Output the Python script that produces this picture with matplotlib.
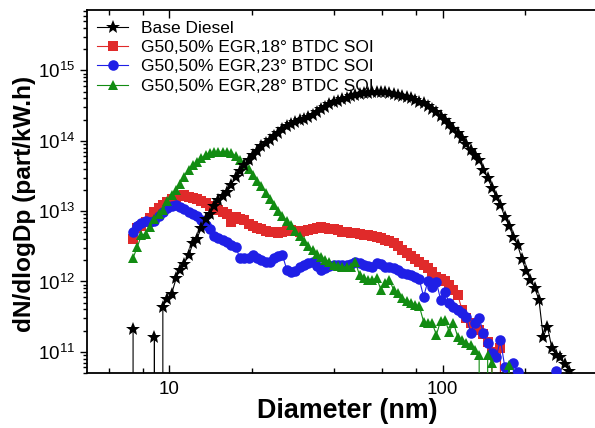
import matplotlib
matplotlib.use("Agg")
import matplotlib.pyplot as plt
from matplotlib.ticker import FixedLocator, FixedFormatter, LogLocator, LogFormatterSciNotation, NullFormatter

plt.rcParams['font.family'] = ['Liberation Sans', 'DejaVu Sans']
plt.rcParams['mathtext.fontset'] = 'custom'
plt.rcParams['mathtext.rm'] = 'Liberation Sans'

# SMPS channel mid-point diameters (nm), 64 channels per decade
diameter = [7.37, 7.64, 7.91, 8.20, 8.51, 8.82, 9.14, 9.47, 9.82, 10.2, 10.6, 10.9,
            11.3, 11.8, 12.2, 12.6, 13.1, 13.6, 14.1, 14.6, 15.1, 15.7, 16.3, 16.8,
            17.5, 18.1, 18.8, 19.5, 20.2, 20.9, 21.7, 22.5, 23.3, 24.1, 25.0, 25.9,
            26.9, 27.9, 28.9, 30.0, 31.1, 32.2, 33.4, 34.6, 35.9, 37.2, 38.5, 40.0,
            41.4, 42.9, 44.5, 46.1, 47.8, 49.6, 51.4, 53.3, 55.2, 57.3, 59.4, 61.5,
            63.8, 66.1, 68.5, 71.0, 73.7, 76.4, 79.1, 82.0, 85.1, 88.2, 91.4, 94.7,
            98.2, 101.8, 105.5, 109.4, 113.4, 117.6, 121.9, 126.4, 131.0, 135.8, 140.7,
            145.9, 151.2, 156.8, 162.5, 168.5, 174.7, 181.1, 187.7, 194.6, 201.7, 209.1,
            216.7, 224.7, 232.9, 241.4, 250.3, 259.5, 269.0, 278.8, 289.0, 299.6]

# dN/dlogDp (part/kW.h); zeros are empty channels
base_diesel = [2.1e11, 0, 0, 0, 0, 1.6e11, 0, 4.4e11, 5.7e11, 6.7e11, 1.12e12, 1.46e12,
               1.78e12, 2.39e12, 3.53e12, 4.03e12, 5.77e12, 7.75e12, 9.1e12, 1.19e13,
               1.44e13, 1.64e13, 1.87e13, 2.36e13, 3.06e13, 3.72e13, 4.53e13, 5.34e13,
               6.28e13, 7.16e13, 8.43e13, 9.3e13, 1.03e14, 1.17e14, 1.29e14, 1.47e14,
               1.62e14, 1.73e14, 1.85e14, 1.94e14, 2.04e14, 2.18e14, 2.36e14, 2.57e14,
               2.78e14, 3.02e14, 3.33e14, 3.56e14, 3.67e14, 3.86e14, 4.05e14, 4.26e14,
               4.40e14, 4.55e14, 4.70e14, 4.77e14, 4.85e14, 4.93e14, 4.93e14, 4.85e14,
               4.77e14, 4.62e14, 4.48e14, 4.33e14, 4.19e14, 3.99e14, 3.80e14, 3.61e14,
               3.39e14, 3.12e14, 2.83e14, 2.52e14, 2.25e14, 1.97e14, 1.71e14, 1.47e14,
               1.29e14, 1.10e14, 9.0e13, 7.4e13, 6.28e13, 5.34e13, 3.85e13, 2.96e13,
               2.14e13, 1.59e13, 1.22e13, 8.28e12, 6.17e12, 4.30e12, 3.31e12, 2.09e12,
               1.42e12, 1.05e12, 8.11e11, 5.48e11, 1.63e11, 2.27e11, 1.14e11, 9.06e10,
               8.49e10, 6.76e10, 5.37e10, 0]

g50_soi18 = [4.03e12, 5.77e12, 6.17e12, 7.03e12, 8.00e12, 9.75e12, 1.11e13, 1.23e13,
             1.35e13, 1.49e13, 1.59e13, 1.64e13, 1.70e13, 1.59e13, 1.54e13, 1.49e13,
             1.40e13, 1.31e13, 1.19e13, 1.11e13, 1.04e13, 9.75e12, 9.12e12, 7.03e12,
             8.27e12, 7.75e12, 7.50e12, 6.58e12, 6.17e12, 5.77e12, 5.59e12, 5.24e12,
             5.07e12, 5.07e12, 4.90e12, 5.07e12, 5.24e12, 5.41e12, 5.24e12, 5.07e12,
             5.24e12, 5.41e12, 5.59e12, 5.77e12, 5.97e12, 5.77e12, 5.59e12, 5.59e12,
             5.41e12, 5.07e12, 5.07e12, 4.90e12, 4.90e12, 4.74e12, 4.59e12, 4.59e12,
             4.44e12, 4.30e12, 4.16e12, 3.90e12, 3.77e12, 3.53e12, 3.21e12, 2.81e12,
             2.55e12, 2.31e12, 2.09e12, 1.90e12, 1.72e12, 1.56e12, 1.37e12, 1.16e12,
             1.08e12, 1.02e12, 8.95e11, 7.60e11, 6.46e11, 3.95e11, 3.04e11, 2.58e11,
             2.26e11, 2.05e11, 1.80e11, 1.39e11, 1.0e11, 0, 1.14e11, 0, 0]

g50_soi23 = [5.07e12, 6.17e12, 6.80e12, 7.26e12, 7.03e12, 7.26e12, 8.55e12, 9.75e12,
             1.11e13, 1.19e13, 1.23e13, 1.15e13, 1.07e13, 9.75e12, 9.12e12, 8.55e12,
             7.50e12, 6.37e12, 5.59e12, 4.44e12, 4.16e12, 3.90e12, 3.65e12, 3.31e12,
             3.10e12, 2.16e12, 2.16e12, 2.16e12, 2.39e12, 2.16e12, 2.03e12, 1.90e12,
             1.90e12, 2.16e12, 2.31e12, 2.39e12, 1.46e12, 1.37e12, 1.41e12, 1.61e12,
             1.72e12, 1.84e12, 1.90e12, 1.67e12, 1.46e12, 1.56e12, 1.67e12, 1.72e12,
             1.72e12, 1.72e12, 1.72e12, 1.78e12, 1.90e12, 1.84e12, 1.72e12, 1.67e12,
             1.61e12, 1.84e12, 1.78e12, 1.61e12, 1.61e12, 1.56e12, 1.46e12, 1.32e12,
             1.28e12, 1.24e12, 1.16e12, 1.08e12, 6.05e11, 1.02e12, 8.38e11, 9.87e11,
             5.48e11, 7.12e11, 4.97e11, 4.36e11, 3.95e11, 3.58e11, 3.14e11, 1.86e11,
             2.58e11, 3.04e11, 1.86e11, 1.34e11, 9.7e10, 8.5e10, 1.48e11, 6.1e10, 0,
             7.0e10, 5.2e10, 0, 0, 0, 0, 0, 0, 0, 0, 5.4e10, 0]

g50_soi28 = [2.16e12, 3.10e12, 4.59e12, 4.74e12, 5.97e12, 7.75e12, 9.12e12, 1.04e13,
             1.40e13, 1.70e13, 2.00e13, 2.43e13, 3.06e13, 3.85e13, 4.53e13, 5.00e13,
             5.70e13, 6.28e13, 6.71e13, 6.93e13, 6.93e13, 6.93e13, 6.93e13, 6.71e13,
             6.08e13, 5.34e13, 4.68e13, 3.98e13, 3.27e13, 2.68e13, 2.28e13, 1.81e13,
             1.49e13, 1.23e13, 1.01e13, 8.55e12, 7.26e12, 6.37e12, 5.24e12, 4.44e12,
             3.77e12, 3.21e12, 2.81e12, 2.47e12, 2.23e12, 2.03e12, 1.90e12, 1.72e12,
             1.67e12, 1.61e12, 1.61e12, 1.61e12, 1.90e12, 1.24e12, 1.12e12, 1.05e12,
             1.05e12, 1.12e12, 7.60e11, 9.55e11, 1.05e12, 7.60e11, 6.89e11, 5.85e11,
             5.30e11, 4.97e11, 4.65e11, 4.50e11, 2.67e11, 2.58e11, 2.58e11, 1.74e11,
             2.76e11, 2.85e11, 1.92e11, 2.58e11, 1.63e11, 1.48e11, 1.34e11, 1.26e11,
             1.07e11, 9.1e10, 0, 9.1e10, 7.0e10, 0, 0, 0, 6.5e10, 0]

labels = ["Base Diesel",
          "G50,50% EGR,18\u00b0 BTDC SOI",
          "G50,50% EGR,23\u00b0 BTDC SOI",
          "G50,50% EGR,28\u00b0 BTDC SOI"]

fig = plt.figure(figsize=(5.95, 4.28), dpi=100)
ax = fig.add_axes([0.1462, 0.1285, 0.9193, 0.848])
ax.set_xscale('log')
ax.set_yscale('log', nonpositive='clip')

series = [
    (base_diesel, '*', 'black', 10.5, 5),
    (g50_soi18, 's', '#e02a2a', 6.6, 2),
    (g50_soi23, 'o', '#1f1fe6', 7.6, 3),
    (g50_soi28, '^', '#128c12', 7.8, 4),
]
for (vals, mk, col, ms, z), lab in zip(series, labels):
    ax.plot(diameter[:len(vals)], vals, marker=mk, color=col, markersize=ms,
            markeredgewidth=0, linewidth=0.8, label=lab, zorder=z)

ax.set_xlim(5, 500)
ax.set_ylim(5e10, 7.2e15)

ax.xaxis.set_major_locator(FixedLocator([10, 100]))
ax.xaxis.set_major_formatter(FixedFormatter(["10", "100"]))
ax.xaxis.set_minor_locator(FixedLocator([6, 8, 20, 40, 60, 80, 200, 400]))
ax.xaxis.set_minor_formatter(NullFormatter())
ax.yaxis.set_major_locator(LogLocator(base=10, numticks=20))
ax.yaxis.set_major_formatter(LogFormatterSciNotation())
ax.yaxis.set_minor_locator(LogLocator(base=10, subs=range(2, 10), numticks=40))
ax.yaxis.set_minor_formatter(NullFormatter())

ax.tick_params(axis='x', which='both', direction='in', top=True, bottom=True,
               labelsize=13.5, width=1.0, pad=6)
ax.tick_params(axis='x', which='major', length=6)
ax.tick_params(axis='x', which='minor', length=3.5)
ax.tick_params(axis='y', which='both', direction='out', left=True, right=False,
               labelsize=13.5, width=1.0)
ax.tick_params(axis='y', which='major', length=5)
ax.tick_params(axis='y', which='minor', length=3)

for sp in ax.spines.values():
    sp.set_linewidth(1.3)

ax.set_xlabel("Diameter (nm)", fontsize=19.4, fontweight='bold')
ax.xaxis.set_label_coords(0.476, -0.07, transform=ax.transAxes)
ax.xaxis.label.set_verticalalignment('top')
ax.set_ylabel("dN/dlogDp (part/kW.h)", fontsize=17.6, fontweight='bold')
ax.yaxis.set_label_coords(-0.093, 0.466, transform=ax.transAxes)

ax.legend(loc='upper left', bbox_to_anchor=(0.019, 0.971), frameon=False,
          fontsize=12.5, handlelength=1.75, handletextpad=0.75, labelspacing=0.24,
          borderpad=0, borderaxespad=0)

fig.savefig("out.png", dpi=100)
